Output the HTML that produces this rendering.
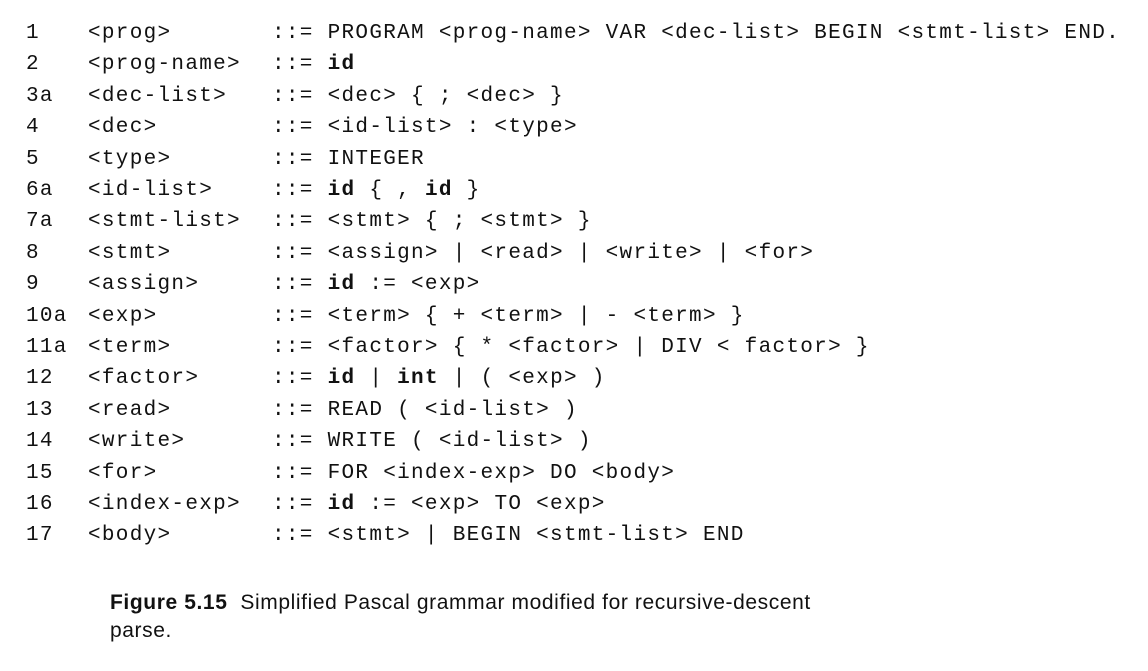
<!DOCTYPE html>
<html><head><meta charset="utf-8"><style>
body{margin:0;width:1148px;height:671px;background:#fff;position:relative;overflow:hidden;color:#111}
.r{position:absolute;font-family:"Liberation Mono",monospace;font-size:21px;letter-spacing:1.3px;white-space:pre;line-height:22px}
.n{left:26px}.a{left:88px}.b{left:272px}
b{font-weight:bold}
.cap{position:absolute;left:110px;font-family:"Liberation Sans",sans-serif;font-size:21px;letter-spacing:0.6px;white-space:pre;line-height:24px}
</style></head><body>
<div class="r n" style="top:23px">1</div><div class="r a" style="top:23px">&lt;prog&gt;</div><div class="r b" style="top:23px">::= PROGRAM &lt;prog-name&gt; VAR &lt;dec-list&gt; BEGIN &lt;stmt-list&gt; END.</div>
<div class="r n" style="top:54px">2</div><div class="r a" style="top:54px">&lt;prog-name&gt;</div><div class="r b" style="top:54px">::= <b>id</b></div>
<div class="r n" style="top:86px">3a</div><div class="r a" style="top:86px">&lt;dec-list&gt;</div><div class="r b" style="top:86px">::= &lt;dec&gt; { ; &lt;dec&gt; }</div>
<div class="r n" style="top:117px">4</div><div class="r a" style="top:117px">&lt;dec&gt;</div><div class="r b" style="top:117px">::= &lt;id-list&gt; : &lt;type&gt;</div>
<div class="r n" style="top:149px">5</div><div class="r a" style="top:149px">&lt;type&gt;</div><div class="r b" style="top:149px">::= INTEGER</div>
<div class="r n" style="top:180px">6a</div><div class="r a" style="top:180px">&lt;id-list&gt;</div><div class="r b" style="top:180px">::= <b>id</b> { , <b>id</b> }</div>
<div class="r n" style="top:211px">7a</div><div class="r a" style="top:211px">&lt;stmt-list&gt;</div><div class="r b" style="top:211px">::= &lt;stmt&gt; { ; &lt;stmt&gt; }</div>
<div class="r n" style="top:243px">8</div><div class="r a" style="top:243px">&lt;stmt&gt;</div><div class="r b" style="top:243px">::= &lt;assign&gt; | &lt;read&gt; | &lt;write&gt; | &lt;for&gt;</div>
<div class="r n" style="top:274px">9</div><div class="r a" style="top:274px">&lt;assign&gt;</div><div class="r b" style="top:274px">::= <b>id</b> := &lt;exp&gt;</div>
<div class="r n" style="top:306px">10a</div><div class="r a" style="top:306px">&lt;exp&gt;</div><div class="r b" style="top:306px">::= &lt;term&gt; { + &lt;term&gt; | - &lt;term&gt; }</div>
<div class="r n" style="top:337px">11a</div><div class="r a" style="top:337px">&lt;term&gt;</div><div class="r b" style="top:337px">::= &lt;factor&gt; { * &lt;factor&gt; | DIV &lt; factor&gt; }</div>
<div class="r n" style="top:368px">12</div><div class="r a" style="top:368px">&lt;factor&gt;</div><div class="r b" style="top:368px">::= <b>id</b> | <b>int</b> | ( &lt;exp&gt; )</div>
<div class="r n" style="top:400px">13</div><div class="r a" style="top:400px">&lt;read&gt;</div><div class="r b" style="top:400px">::= READ ( &lt;id-list&gt; )</div>
<div class="r n" style="top:431px">14</div><div class="r a" style="top:431px">&lt;write&gt;</div><div class="r b" style="top:431px">::= WRITE ( &lt;id-list&gt; )</div>
<div class="r n" style="top:463px">15</div><div class="r a" style="top:463px">&lt;for&gt;</div><div class="r b" style="top:463px">::= FOR &lt;index-exp&gt; DO &lt;body&gt;</div>
<div class="r n" style="top:494px">16</div><div class="r a" style="top:494px">&lt;index-exp&gt;</div><div class="r b" style="top:494px">::= <b>id</b> := &lt;exp&gt; TO &lt;exp&gt;</div>
<div class="r n" style="top:525px">17</div><div class="r a" style="top:525px">&lt;body&gt;</div><div class="r b" style="top:525px">::= &lt;stmt&gt; | BEGIN &lt;stmt-list&gt; END</div>
<div class="cap" style="top:591px"><b>Figure 5.15</b>  Simplified Pascal grammar modified for recursive-descent</div>
<div class="cap" style="top:619px">parse.</div>
</body></html>
